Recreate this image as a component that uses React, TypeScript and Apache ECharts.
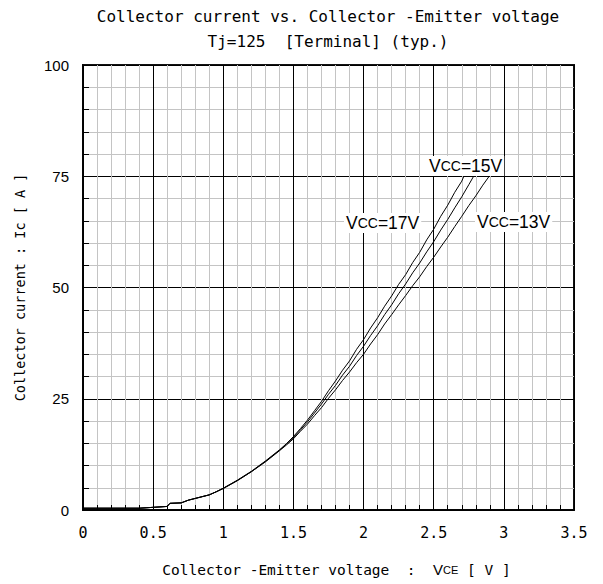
import React, { useEffect, useRef } from "react";
import * as echarts from "echarts";

const titleLines = ["Collector current vs. Collector -Emitter voltage", "Tj=125  [Terminal] (typ.)"];
const xTicks = ["0", "0.5", "1", "1.5", "2", "2.5", "3", "3.5"];
const yTicks = ["0", "25", "50", "75", "100"];

const lowV = [0, 0.4, 0.45, 0.5, 0.6, 0.62, 0.7, 0.75, 0.8, 0.85, 0.9, 0.95, 1.0, 1.1, 1.2, 1.3, 1.4];
const highV17 = [1.45, 1.5, 1.55, 1.6, 1.65, 1.7, 1.75, 1.8, 1.85, 1.9, 1.95, 2.0, 2.05, 2.1, 2.15, 2.2, 2.25, 2.3, 2.35, 2.4, 2.45, 2.5, 2.55, 2.6, 2.65, 2.7, 2.72];
const highV15 = [1.45, 1.5, 1.55, 1.6, 1.65, 1.7, 1.75, 1.8, 1.85, 1.9, 1.95, 2.0, 2.05, 2.1, 2.15, 2.2, 2.25, 2.3, 2.35, 2.4, 2.45, 2.5, 2.55, 2.6, 2.65, 2.7, 2.75, 2.79];
const highV13 = [1.45, 1.5, 1.55, 1.6, 1.65, 1.7, 1.75, 1.8, 1.85, 1.9, 1.95, 2.0, 2.05, 2.1, 2.15, 2.2, 2.25, 2.3, 2.35, 2.4, 2.45, 2.5, 2.55, 2.6, 2.65, 2.7, 2.75, 2.8, 2.85, 2.9];

const lowI17 = [0.4, 0.4, 0.5, 0.6, 0.8, 1.5, 1.6, 2.2, 2.6, 3.0, 3.4, 4.1, 4.9, 6.7, 8.7, 11.0, 13.5];
const lowI15 = [0.4, 0.4, 0.5, 0.6, 0.8, 1.5, 1.6, 2.2, 2.6, 3.0, 3.4, 4.1, 4.9, 6.6, 8.6, 10.9, 13.4];
const lowI13 = [0.4, 0.4, 0.5, 0.6, 0.8, 1.5, 1.6, 2.2, 2.6, 3.0, 3.4, 4.1, 4.8, 6.6, 8.6, 10.8, 13.3];

const highI17 = [14.9, 16.5, 18.3, 20.2, 22.3, 24.4, 26.8, 29.0, 31.4, 33.5, 36.1, 38.3, 40.9, 43.2, 45.8, 48.1, 50.7, 52.9, 55.6, 57.9, 60.7, 63.1, 66.0, 68.5, 71.4, 73.9, 75.4];
const highI15 = [14.8, 16.3, 18.0, 19.8, 21.8, 23.8, 26.0, 28.0, 30.3, 32.3, 34.7, 36.8, 39.2, 41.4, 43.9, 46.1, 48.6, 50.8, 53.3, 55.5, 58.0, 60.3, 62.9, 65.3, 67.9, 70.4, 73.1, 75.3];
const highI13 = [14.6, 16.0, 17.7, 19.3, 21.2, 23.0, 25.1, 27.0, 29.1, 31.0, 33.1, 35.0, 37.3, 39.4, 41.8, 43.9, 46.1, 48.2, 50.4, 52.4, 54.7, 56.8, 59.1, 61.3, 63.7, 66.0, 68.4, 70.6, 73.0, 75.2];

const seriesNames = ["VCC=17V", "VCC=15V", "VCC=13V"];

const pairs = (vs: number[], is: number[]) => vs.map((v, i) => [v, is[i]]);

export default function App() {
  const ref = useRef<HTMLDivElement>(null);
  useEffect(() => {
    if (!ref.current) return;
    const chart = echarts.init(ref.current, null, { renderer: "svg" });
    const mono = "DejaVu Sans Mono";
    const sans = "Liberation Sans";
    const data = [
      pairs(lowV.concat(highV17), lowI17.concat(highI17)),
      pairs(lowV.concat(highV15), lowI15.concat(highI15)),
      pairs(lowV.concat(highV13), lowI13.concat(highI13)),
    ];
    const labelRich = {
      v: { fontFamily: sans, fontSize: 17.5, color: "#000" },
      c: { fontFamily: sans, fontSize: 14, color: "#000" },
    };
    const vccText = (name: string) => `{v|V}{c|CC}{v|${name.slice(3)}}`;
    const gridColors = ["#000", "#c4c4c4", "#c4c4c4", "#c4c4c4", "#c4c4c4"];
    chart.setOption({
      animation: false,
      backgroundColor: "#fff",
      title: {
        text: titleLines.join("\n"),
        left: 328,
        textAlign: "center",
        top: 4,
        padding: 0,
        textStyle: { fontFamily: mono, fontSize: 16, fontWeight: "normal", color: "#000", lineHeight: 25 },
      },
      grid: { left: 83, top: 65, right: 29, bottom: 74, show: true, borderColor: "#111", borderWidth: 2, backgroundColor: "transparent" },
      xAxis: {
        type: "value",
        min: 0,
        max: 3.5,
        interval: 0.1,
        name: "Collector -Emitter voltage  :  {v|V}{s|CE} [ V ]",
        nameLocation: "middle",
        nameGap: 52,
        nameTextStyle: {
          fontFamily: mono,
          fontSize: 14.5,
          color: "#000",
          padding: [0, 0, 0, 16],
          rich: { v: { fontFamily: sans, fontSize: 15, color: "#000" }, s: { fontFamily: sans, fontSize: 11, color: "#000" } },
        },
        axisLine: { show: true, lineStyle: { color: "#000", width: 1.5 } },
        axisTick: { show: true, inside: true, length: 5, lineStyle: { color: "#000" } },
        splitLine: { show: true, lineStyle: { color: gridColors, width: 1 } },
        axisLabel: {
          fontFamily: mono,
          fontSize: 15,
          color: "#000",
          margin: 15,
          showMinLabel: true,
          showMaxLabel: true,
          interval: 0,
          formatter: (v: number) => {
            const k = Math.round(v * 10);
            return k % 5 === 0 ? xTicks[k / 5] ?? "" : "";
          },
        },
      },
      yAxis: {
        type: "value",
        min: 0,
        max: 100,
        interval: 5,
        name: "Collector current : Ic [ A ]",
        nameLocation: "middle",
        nameRotate: 90,
        nameGap: 56,
        nameTextStyle: { fontFamily: mono, fontSize: 13.5, color: "#000" },
        axisLine: { show: true, lineStyle: { color: "#000", width: 1.5 } },
        axisTick: { show: true, inside: true, length: 6, lineStyle: { color: "#000" } },
        splitLine: { show: true, lineStyle: { color: gridColors, width: 1 } },
        axisLabel: {
          fontFamily: sans,
          fontSize: 15,
          color: "#000",
          margin: 14,
          interval: 0,
          formatter: (v: number) => {
            const k = Math.round(v);
            return k % 25 === 0 ? yTicks[k / 25] ?? "" : "";
          },
        },
      },
      series: data.map((d, i) => ({
        name: seriesNames[i],
        type: "line",
        data: d,
        showSymbol: false,
        symbol: "none",
        lineStyle: { color: "#000", width: 1 },
        z: 5,
      })),
      graphic: [
        { type: "text", left: 344, top: 213, z: 10, style: { text: vccText(seriesNames[0]), rich: labelRich, backgroundColor: "#fff", padding: [1, 2] } },
        { type: "text", left: 427, top: 156, z: 10, style: { text: vccText(seriesNames[1]), rich: labelRich, backgroundColor: "#fff", padding: [1, 2] } },
        { type: "text", left: 475, top: 212, z: 10, style: { text: vccText(seriesNames[2]), rich: labelRich, backgroundColor: "#fff", padding: [1, 2] } },
      ],
    });
    return () => chart.dispose();
  }, []);
  return <div ref={ref} style={{ position: "fixed", left: 0, top: 0, width: 603, height: 584 }} />;
}
